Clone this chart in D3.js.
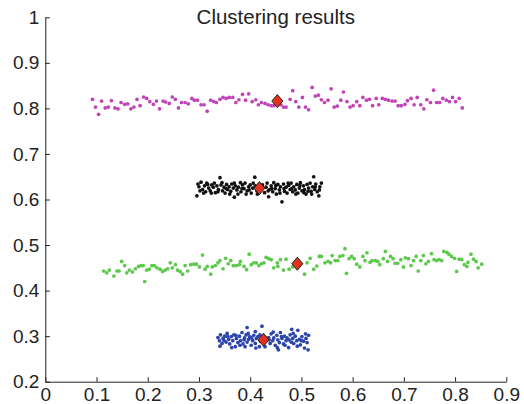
<!DOCTYPE html>
<html><head><meta charset="utf-8">
<script src="https://cdn.jsdelivr.net/npm/d3@7"></script>
<style>
html,body{margin:0;padding:0;background:#fff;}
svg{display:block;}
text{font-family:"Liberation Sans",Arial,Helvetica,sans-serif;fill:#222;}
</style></head>
<body>
<svg id="chart" width="524" height="404"></svg>
<script>
const titleText = "Clustering results";
const xTicks = [0,0.1,0.2,0.3,0.4,0.5,0.6,0.7,0.8,0.9];
const xTickLabels = ["0","0.1","0.2","0.3","0.4","0.5","0.6","0.7","0.8","0.9"];
const yTicks = [0.2,0.3,0.4,0.5,0.6,0.7,0.8,0.9,1];
const yTickLabels = ["0.2","0.3","0.4","0.5","0.6","0.7","0.8","0.9","1"];

const magentaPts = [
[0.092,0.820],[0.098,0.803],[0.104,0.787],[0.110,0.816],[0.117,0.801],[0.123,0.803],[0.129,0.817],[0.136,0.801],[0.142,0.799],[0.148,0.813],[0.155,0.809],[0.161,0.810],[0.167,0.799],[0.173,0.803],[0.179,0.820],[0.185,0.806],[0.192,0.825],[0.198,0.822],[0.204,0.815],[0.211,0.809],[0.217,0.816],[0.223,0.799],[0.230,0.816],[0.235,0.814],[0.242,0.811],[0.248,0.825],[0.254,0.820],[0.260,0.801],[0.266,0.813],[0.273,0.813],[0.279,0.810],[0.286,0.822],[0.291,0.818],[0.297,0.818],[0.304,0.808],[0.310,0.808],[0.316,0.794],[0.323,0.818],[0.329,0.815],[0.334,0.813],[0.341,0.820],[0.347,0.824],[0.353,0.822],[0.359,0.824],[0.366,0.824],[0.372,0.813],[0.378,0.819],[0.385,0.831],[0.391,0.818],[0.397,0.832],[0.404,0.815],[0.411,0.819],[0.416,0.808],[0.422,0.813],[0.429,0.811],[0.435,0.808],[0.441,0.806],
[0.446,0.806],[0.460,0.808],[0.465,0.803],[0.470,0.803],[0.478,0.820],[0.483,0.839],[0.489,0.815],[0.495,0.803],[0.502,0.824],[0.508,0.803],[0.514,0.797],[0.521,0.846],[0.527,0.827],[0.533,0.829],[0.539,0.819],[0.545,0.813],[0.552,0.818],[0.558,0.843],[0.564,0.803],[0.570,0.805],[0.577,0.818],[0.582,0.836],[0.589,0.815],[0.595,0.803],[0.601,0.806],[0.608,0.815],[0.614,0.806],[0.620,0.824],[0.627,0.818],[0.633,0.820],[0.639,0.806],[0.646,0.822],[0.651,0.808],[0.658,0.822],[0.664,0.820],[0.670,0.818],[0.677,0.816],[0.683,0.816],[0.689,0.806],[0.695,0.806],[0.702,0.809],[0.707,0.817],[0.714,0.822],[0.720,0.808],[0.726,0.824],[0.733,0.808],[0.739,0.799],[0.745,0.819],[0.752,0.813],[0.758,0.840],[0.764,0.813],[0.770,0.813],[0.776,0.822],[0.783,0.818],[0.789,0.815],[0.795,0.824],[0.801,0.815],[0.808,0.822],[0.814,0.801]
];

const blackPts = [
[0.298,0.634],[0.300,0.628],[0.304,0.638],[0.307,0.622],[0.311,0.630],[0.313,0.617],[0.315,0.636],[0.319,0.625],[0.322,0.619],[0.325,0.632],[0.328,0.627],[0.332,0.615],[0.335,0.630],[0.338,0.622],[0.341,0.648],[0.343,0.632],[0.346,0.619],[0.349,0.627],[0.351,0.614],[0.354,0.633],[0.356,0.622],[0.359,0.628],[0.362,0.618],[0.364,0.634],[0.367,0.625],[0.369,0.605],[0.371,0.630],[0.374,0.621],[0.377,0.627],[0.381,0.637],[0.382,0.617],[0.385,0.632],[0.388,0.624],[0.390,0.636],[0.394,0.619],[0.397,0.628],[0.400,0.632],[0.402,0.614],[0.405,0.625],[0.409,0.649],[0.410,0.630],[0.413,0.619],[0.424,0.632],[0.428,0.615],[0.431,0.627],[0.433,0.636],[0.436,0.606],[0.438,0.622],[0.441,0.630],[0.444,0.617],[0.446,0.637],[0.449,0.624],[0.451,0.612],[0.454,0.633],[0.457,0.621],[0.459,0.628],[0.462,0.595],[0.465,0.634],[0.467,0.618],[0.470,0.627],[0.472,0.614],[0.475,0.631],[0.478,0.622],[0.480,0.636],[0.483,0.617],[0.485,0.628],[0.488,0.621],[0.491,0.633],[0.493,0.614],[0.496,0.625],[0.498,0.637],[0.501,0.619],[0.504,0.630],[0.506,0.622],[0.509,0.612],[0.511,0.633],[0.514,0.625],[0.517,0.636],[0.519,0.618],[0.522,0.628],[0.524,0.650],[0.526,0.622],[0.528,0.634],[0.531,0.617],[0.534,0.608],[0.536,0.628],[0.539,0.636],
[0.296,0.608],[0.302,0.619],[0.309,0.614],[0.317,0.633],[0.324,0.614],[0.330,0.636],[0.337,0.617],[0.345,0.637],[0.353,0.624],[0.360,0.612],[0.369,0.636],[0.376,0.612],[0.384,0.624],[0.392,0.612],[0.398,0.621],[0.406,0.636],[0.414,0.612],[0.435,0.619],[0.442,0.624],[0.450,0.631],[0.458,0.614],[0.466,0.624],[0.474,0.636],[0.481,0.624],[0.489,0.612],[0.497,0.631],[0.505,0.615],[0.513,0.618],[0.520,0.612],[0.527,0.628],[0.535,0.621]
];

const greenPts = [
[0.114,0.443],[0.120,0.439],[0.125,0.445],[0.134,0.432],[0.140,0.443],[0.144,0.443],[0.149,0.464],[0.155,0.455],[0.159,0.439],[0.164,0.445],[0.170,0.441],[0.176,0.448],[0.182,0.453],[0.187,0.455],[0.191,0.455],[0.194,0.420],[0.198,0.445],[0.203,0.447],[0.208,0.455],[0.213,0.455],[0.218,0.450],[0.224,0.447],[0.229,0.442],[0.234,0.445],[0.239,0.448],[0.244,0.461],[0.248,0.450],[0.254,0.457],[0.258,0.445],[0.263,0.442],[0.268,0.436],[0.273,0.455],[0.278,0.443],[0.284,0.457],[0.290,0.458],[0.295,0.458],[0.301,0.452],[0.307,0.478],[0.312,0.447],[0.316,0.453],[0.323,0.436],[0.326,0.452],[0.332,0.455],[0.337,0.461],[0.341,0.466],[0.347,0.448],[0.352,0.471],[0.357,0.459],[0.362,0.466],[0.367,0.455],[0.373,0.455],[0.379,0.457],[0.381,0.464],[0.388,0.453],[0.393,0.446],[0.398,0.480],[0.402,0.457],[0.407,0.461],[0.412,0.461],[0.417,0.455],[0.422,0.459],[0.427,0.461],[0.431,0.473],[0.436,0.470],[0.441,0.468],[0.446,0.450],[0.453,0.461],[0.454,0.453],[0.459,0.468],[0.465,0.445],[0.470,0.469],[0.476,0.447],
[0.483,0.452],[0.506,0.436],[0.511,0.461],[0.517,0.471],[0.524,0.447],[0.530,0.454],[0.535,0.475],[0.539,0.475],[0.546,0.461],[0.552,0.464],[0.557,0.461],[0.560,0.477],[0.566,0.466],[0.571,0.466],[0.575,0.475],[0.581,0.477],[0.585,0.492],[0.588,0.438],[0.593,0.470],[0.598,0.475],[0.603,0.470],[0.608,0.458],[0.614,0.452],[0.620,0.475],[0.624,0.466],[0.628,0.483],[0.634,0.462],[0.638,0.466],[0.644,0.466],[0.649,0.464],[0.653,0.457],[0.660,0.470],[0.664,0.486],[0.668,0.464],[0.674,0.475],[0.679,0.470],[0.683,0.460],[0.688,0.460],[0.694,0.468],[0.699,0.452],[0.703,0.472],[0.709,0.470],[0.714,0.455],[0.719,0.466],[0.724,0.475],[0.728,0.443],[0.733,0.466],[0.738,0.477],[0.743,0.459],[0.748,0.464],[0.754,0.481],[0.759,0.468],[0.764,0.466],[0.769,0.468],[0.774,0.466],[0.778,0.486],[0.784,0.484],[0.788,0.480],[0.793,0.475],[0.799,0.471],[0.803,0.442],[0.808,0.469],[0.813,0.468],[0.818,0.457],[0.823,0.453],[0.825,0.462],[0.831,0.480],[0.836,0.469],[0.841,0.464],[0.845,0.450],[0.852,0.458]
];

const bluePts = [
[0.337,0.297],[0.340,0.290],[0.342,0.303],[0.345,0.284],[0.347,0.295],[0.350,0.300],[0.353,0.287],[0.355,0.306],[0.358,0.293],[0.360,0.283],[0.363,0.299],[0.366,0.290],[0.368,0.303],[0.371,0.277],[0.373,0.295],[0.376,0.286],[0.379,0.300],[0.381,0.290],[0.384,0.308],[0.386,0.283],[0.389,0.296],[0.392,0.303],[0.394,0.287],[0.397,0.293],[0.399,0.299],[0.402,0.280],[0.405,0.290],[0.407,0.302],[0.410,0.284],[0.412,0.295],[0.415,0.299],[0.418,0.277],[0.420,0.289],[0.423,0.322],[0.436,0.297],[0.439,0.284],[0.441,0.305],[0.444,0.290],[0.446,0.296],[0.449,0.280],[0.452,0.302],[0.454,0.292],[0.457,0.286],[0.459,0.308],[0.462,0.295],[0.465,0.283],[0.467,0.300],[0.470,0.290],[0.472,0.296],[0.475,0.275],[0.478,0.303],[0.480,0.287],[0.483,0.295],[0.485,0.284],[0.488,0.300],[0.491,0.290],[0.493,0.313],[0.496,0.293],[0.498,0.281],[0.501,0.299],[0.504,0.289],[0.506,0.274],[0.509,0.295],[0.511,0.286],[0.514,0.302],
[0.341,0.278],[0.349,0.290],[0.356,0.299],[0.364,0.275],[0.372,0.302],[0.380,0.280],[0.388,0.292],[0.396,0.306],[0.403,0.296],[0.411,0.274],[0.419,0.303],[0.429,0.277],[0.437,0.292],[0.445,0.309],[0.453,0.275],[0.461,0.299],[0.468,0.280],[0.476,0.292],[0.484,0.306],[0.492,0.278],[0.500,0.290],[0.508,0.305],[0.513,0.270],[0.410,0.310],[0.390,0.277],[0.455,0.270],[0.481,0.315],[0.394,0.319]
];

const centroidX = [0.453, 0.418, 0.492, 0.426];
const centroidY = [0.816, 0.625, 0.459, 0.292];

const clusterColors = ["#c044b8", "#111111", "#5cc84c", "#2b45ad"];

const svg = d3.select("#chart");
const x = d3.scaleLinear().domain([0, 0.9]).range([45.3, 506.3]);
const y = d3.scaleLinear().domain([0.2, 1]).range([381.7, 17.3]);

const clusters = [magentaPts, blackPts, greenPts, bluePts];
clusters.forEach((pts, i) => {
  svg.append("g").selectAll("circle").data(pts).join("circle")
    .attr("cx", d => x(d[0])).attr("cy", d => y(d[1]))
    .attr("r", 1.85).attr("fill", clusterColors[i]);
});

const diamond = "M0,-6.5L5.5,0L0,6.5L-5.5,0Z";
svg.append("g").selectAll("path").data(centroidX).join("path")
  .attr("d", diamond)
  .attr("transform", (d, i) => `translate(${x(d)},${y(centroidY[i])})`)
  .attr("fill", "#e2321f").attr("stroke", "#2a1a1a").attr("stroke-width", 1);

const xAxis = d3.axisBottom(x).tickValues(xTicks)
  .tickFormat((d, i) => xTickLabels[i]).tickSizeInner(-4.5).tickSizeOuter(0).tickPadding(6);
const yAxis = d3.axisLeft(y).tickValues(yTicks)
  .tickFormat((d, i) => yTickLabels[i]).tickSizeInner(-4.5).tickSizeOuter(0).tickPadding(6);

const gx = svg.append("g").attr("transform", `translate(0,${y(0.2)})`).call(xAxis);
const gy = svg.append("g").attr("transform", `translate(${x(0)},0)`).call(yAxis);
[gx, gy].forEach(g => {
  g.select(".domain").attr("stroke", "#222").attr("stroke-width", 1);
  g.selectAll(".tick line").attr("stroke", "#222");
  g.selectAll(".tick text").attr("font-size", "19px").attr("fill", "#222")
    .attr("font-family", '"Liberation Sans", Arial, sans-serif');
});

svg.append("text").attr("x", (x(0) + x(0.9)) / 2).attr("y", 24)
  .attr("text-anchor", "middle").attr("font-size", "20.5px").text(titleText);
</script>
</body></html>
